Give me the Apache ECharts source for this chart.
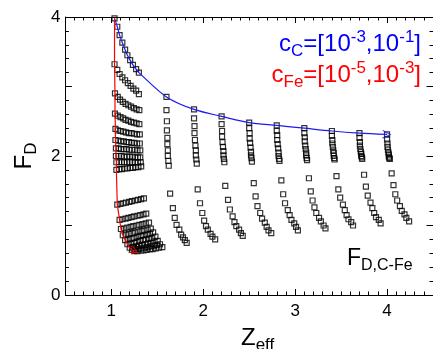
<!DOCTYPE html>
<html>
<head>
<meta charset="utf-8">
<title>F_D vs Zeff</title>
<script src="https://cdn.jsdelivr.net/npm/echarts@6/dist/echarts.min.js"></script>
</head>
<body style="margin:0">
<div id="chart" style="width:433px;height:349px;"></div>
<script>
// c_C = 1e-3 ... 1e-2 : one row per c_Fe value (1e-5 ... 1e-4, 2e-4 ... 1e-3)
var rowZ = [
  [1.035,1.065,1.09,1.12,1.15,1.175,1.205,1.235,1.27,1.30],
  [1.035,1.065,1.09,1.12,1.15,1.18,1.21,1.24,1.27,1.30],
  [1.04,1.07,1.095,1.125,1.155,1.185,1.215,1.245,1.275,1.305],
  [1.04,1.07,1.10,1.13,1.155,1.185,1.215,1.245,1.275,1.305],
  [1.045,1.07,1.10,1.13,1.16,1.19,1.22,1.25,1.28,1.31],
  [1.045,1.075,1.105,1.135,1.165,1.19,1.22,1.25,1.28,1.31],
  [1.05,1.08,1.105,1.135,1.165,1.195,1.225,1.255,1.285,1.315],
  [1.05,1.08,1.11,1.14,1.17,1.20,1.23,1.26,1.29,1.315],
  [1.055,1.085,1.115,1.14,1.17,1.20,1.23,1.26,1.29,1.32],
  [1.055,1.085,1.115,1.145,1.175,1.205,1.235,1.265,1.295,1.325],
  [1.065,1.10,1.13,1.16,1.195,1.225,1.26,1.29,1.325,1.355],
  [1.09,1.12,1.155,1.185,1.22,1.25,1.285,1.315,1.35,1.38],
  [1.105,1.14,1.175,1.21,1.24,1.275,1.305,1.34,1.375,1.41],
  [1.125,1.16,1.195,1.23,1.26,1.295,1.33,1.36,1.395,1.43],
  [1.15,1.185,1.22,1.25,1.285,1.32,1.35,1.385,1.42,1.455],
  [1.175,1.21,1.245,1.275,1.31,1.345,1.375,1.41,1.445,1.48],
  [1.20,1.235,1.27,1.30,1.335,1.37,1.40,1.435,1.47,1.505],
  [1.225,1.26,1.295,1.325,1.36,1.395,1.425,1.46,1.495,1.53],
  [1.25,1.285,1.32,1.35,1.385,1.42,1.45,1.485,1.52,1.555]
];
var rowF = [
  [3.98,3.86,3.74,3.63,3.53,3.45,3.38,3.31,3.25,3.20],
  [3.32,3.24,3.18,3.13,3.09,3.05,3.01,2.97,2.94,2.89],
  [2.90,2.85,2.81,2.78,2.75,2.73,2.71,2.69,2.67,2.66],
  [2.61,2.58,2.56,2.54,2.52,2.51,2.49,2.48,2.47,2.46],
  [2.39,2.37,2.36,2.35,2.34,2.33,2.33,2.32,2.31,2.31],
  [2.23,2.22,2.21,2.21,2.20,2.20,2.19,2.19,2.18,2.18],
  [2.11,2.11,2.10,2.10,2.10,2.09,2.09,2.09,2.08,2.08],
  [2.00,2.00,2.00,1.99,1.99,1.99,1.99,1.98,1.98,1.98],
  [1.91,1.91,1.91,1.91,1.91,1.91,1.91,1.91,1.91,1.91],
  [1.80,1.81,1.81,1.82,1.82,1.83,1.83,1.84,1.84,1.85],
  [1.30,1.31,1.32,1.33,1.34,1.35,1.36,1.37,1.38,1.39],
  [1.08,1.09,1.10,1.11,1.12,1.13,1.14,1.15,1.16,1.17],
  [0.95,0.96,0.97,0.98,0.99,1.00,1.01,1.02,1.03,1.04],
  [0.86,0.87,0.88,0.89,0.90,0.91,0.92,0.93,0.94,0.955],
  [0.79,0.80,0.81,0.82,0.84,0.85,0.86,0.87,0.88,0.90],
  [0.73,0.74,0.75,0.76,0.78,0.79,0.80,0.81,0.82,0.84],
  [0.68,0.69,0.70,0.71,0.72,0.73,0.74,0.75,0.77,0.78],
  [0.65,0.66,0.66,0.67,0.68,0.69,0.70,0.71,0.72,0.73],
  [0.63,0.63,0.64,0.64,0.65,0.66,0.66,0.67,0.68,0.69]
];
// c_C = 2e-2 ... 1e-1 : one column each, 19 c_Fe values top to bottom
var colZ = [
  [1.60,1.60,1.605,1.605,1.61,1.61,1.615,1.615,1.62,1.625,1.64,1.67,1.69,1.71,1.74,1.76,1.78,1.80,1.82],
  [1.90,1.90,1.905,1.905,1.91,1.915,1.92,1.92,1.925,1.93,1.94,1.965,1.99,2.01,2.03,2.05,2.08,2.10,2.13],
  [2.20,2.20,2.205,2.205,2.21,2.215,2.22,2.22,2.225,2.23,2.24,2.27,2.29,2.32,2.34,2.36,2.39,2.41,2.43],
  [2.50,2.50,2.505,2.505,2.51,2.515,2.52,2.52,2.525,2.53,2.55,2.57,2.59,2.62,2.64,2.67,2.69,2.71,2.74],
  [2.80,2.80,2.805,2.805,2.81,2.815,2.82,2.82,2.825,2.83,2.85,2.87,2.89,2.92,2.94,2.96,2.99,3.01,3.03],
  [3.10,3.10,3.105,3.105,3.11,3.115,3.12,3.12,3.125,3.13,3.15,3.17,3.19,3.21,3.23,3.26,3.28,3.31,3.33],
  [3.40,3.40,3.405,3.405,3.41,3.415,3.42,3.42,3.425,3.43,3.45,3.47,3.49,3.52,3.54,3.56,3.58,3.61,3.63],
  [3.70,3.70,3.705,3.705,3.71,3.715,3.72,3.72,3.725,3.73,3.75,3.77,3.79,3.82,3.84,3.86,3.88,3.91,3.93],
  [4.00,4.00,4.005,4.005,4.01,4.015,4.02,4.02,4.025,4.03,4.05,4.07,4.09,4.11,4.14,4.16,4.19,4.21,4.24]
];
var colF = [
  [2.85,2.66,2.50,2.37,2.26,2.17,2.08,2.00,1.93,1.86,1.46,1.25,1.11,1.01,0.94,0.87,0.83,0.79,0.75],
  [2.67,2.54,2.43,2.33,2.23,2.15,2.08,2.01,1.95,1.89,1.52,1.32,1.18,1.07,0.99,0.94,0.88,0.84,0.80],
  [2.57,2.46,2.36,2.28,2.20,2.13,2.07,2.01,1.96,1.91,1.57,1.37,1.23,1.13,1.05,0.99,0.94,0.89,0.85],
  [2.48,2.40,2.33,2.25,2.19,2.12,2.06,2.01,1.97,1.92,1.61,1.42,1.28,1.18,1.10,1.04,0.98,0.93,0.89],
  [2.44,2.36,2.30,2.23,2.17,2.11,2.05,2.00,1.96,1.93,1.65,1.45,1.32,1.22,1.15,1.08,1.03,0.98,0.93],
  [2.40,2.33,2.27,2.21,2.15,2.10,2.05,2.01,1.97,1.94,1.68,1.49,1.36,1.26,1.18,1.11,1.06,1.00,0.96],
  [2.36,2.29,2.23,2.18,2.13,2.08,2.04,2.00,1.97,1.95,1.71,1.52,1.40,1.30,1.22,1.15,1.09,1.05,1.00],
  [2.33,2.26,2.20,2.15,2.10,2.06,2.03,2.00,1.98,1.96,1.73,1.56,1.43,1.33,1.25,1.18,1.12,1.08,1.03],
  [2.31,2.24,2.18,2.13,2.09,2.05,2.02,1.99,1.97,1.96,1.75,1.58,1.45,1.36,1.28,1.21,1.16,1.11,1.06]
];
var xTicks = [1, 2, 3, 4];

var FONT = 'Liberation Sans';
var BLUE = '#1c1cf0';
var RED = '#ff0000';

var points = [];
rowZ.forEach(function (r, i) {
  r.forEach(function (z, j) { points.push([z, rowF[i][j]]); });
});
colZ.forEach(function (c, i) {
  c.forEach(function (z, j) { points.push([z, colF[i][j]]); });
});

// c_Fe fixed at 1e-5, c_C going up
var blueLine = rowZ[0].map(function (z, j) { return [z, rowF[0][j]]; });
colZ.forEach(function (c, i) { blueLine.push([c[0], colF[i][0]]); });
// c_C fixed at 1e-3, c_Fe going up
var redLine = rowZ.map(function (r, i) { return [r[0], rowF[i][0]]; });

// open arrow head pointing up, rotated onto the end of each curve
var chevron = 'path://M0,10L5,0L10,10L8.7,10L5,2.6L1.3,10Z';

var chart = echarts.init(document.getElementById('chart'));

var minorX = {
  min: 0.5, max: 4.5, interval: 0.1, scale: true,
  axisLine: { show: true, lineStyle: { color: '#000', width: 1 } },
  axisTick: { show: true, inside: true, length: 3.5, lineStyle: { color: '#000' } },
  splitLine: { show: false }
};
var majorX = {
  min: 0.5, max: 4.5, scale: true,
  axisLine: { show: false },
  axisTick: { show: true, inside: true, length: 6, customValues: xTicks, lineStyle: { color: '#000' } },
  axisLabel: { show: false },
  splitLine: { show: false }
};
var yBase = {
  min: 0, max: 4, interval: 1,
  axisLine: { show: true, lineStyle: { color: '#000', width: 1 } },
  axisTick: { show: true, inside: true, length: 6.5, lineStyle: { color: '#000' } },
  minorTick: { show: true, splitNumber: 5, length: 3.5, lineStyle: { color: '#000' } },
  splitLine: { show: false }
};

function rich(color, big, small) {
  return {
    m: { fontSize: big, fontWeight: 'normal', color: color, fontFamily: FONT, lineHeight: big + 6 },
    s: { fontSize: small, fontWeight: 'normal', color: color, fontFamily: FONT, lineHeight: small, padding: [15, 0, 0, 0] },
    p: { fontSize: small, fontWeight: 'normal', color: color, fontFamily: FONT, lineHeight: small, padding: [0, 0, 14, 0] }
  };
}

function arrowSeries(line, color) {
  return {
    type: 'scatter',
    data: [line[line.length - 1]],
    symbol: chevron,
    symbolSize: 9,
    itemStyle: { color: color },
    z: 4,
    silent: true
  };
}

chart.setOption({
  animation: false,
  backgroundColor: '#fff',
  grid: { left: 58, top: 17, width: 377.5, height: 278 },
  title: [
    { text: '{m|c}{s|C}{m|=[10}{p|-3}{m|,10}{p|-1}{m|]}', right: 12, top: 29, padding: 0,
      textStyle: { fontWeight: 'normal', rich: rich('#0000ff', 24, 17) } },
    { text: '{m|c}{s|Fe}{m|=[10}{p|-5}{m|,10}{p|-3}{m|]}', right: 12, top: 60, padding: 0,
      textStyle: { fontWeight: 'normal', rich: rich('#ff0000', 24, 17) } },
    { text: '{m|F}{s|D,C-Fe}', left: 347, top: 244, padding: 0,
      textStyle: { fontWeight: 'normal', rich: rich('#000', 23, 16) } },
    { text: '{m|Z}{s|eff}', left: 241, top: 323, padding: 0,
      textStyle: { fontWeight: 'normal', rich: rich('#000', 24, 17) } }
  ],
  xAxis: [
    Object.assign({}, minorX, {
      position: 'bottom',
      axisLabel: { show: true, customValues: xTicks, margin: 8, color: '#000', fontSize: 17, fontFamily: FONT }
    }),
    Object.assign({}, majorX, { position: 'bottom' }),
    Object.assign({}, minorX, { position: 'top', axisLabel: { show: false } }),
    Object.assign({}, majorX, { position: 'top' })
  ],
  yAxis: [
    Object.assign({}, yBase, {
      position: 'left',
      name: '{m|F}{s|D}',
      nameLocation: 'middle',
      nameRotate: 90,
      nameGap: 22,
      nameTextStyle: { fontWeight: 'normal', rich: rich('#000', 24, 17) },
      axisLabel: {
        margin: 5, color: '#000', fontSize: 17, fontFamily: FONT,
        formatter: function (v) { return v % 2 === 0 ? String(v) : ''; }
      }
    }),
    Object.assign({}, yBase, { position: 'right', axisLabel: { show: false } })
  ],
  series: [
    {
      type: 'scatter',
      data: points,
      symbol: 'rect',
      symbolSize: 5,
      itemStyle: { color: 'rgba(0,0,0,0)', borderColor: '#000', borderWidth: 1.2 },
      z: 2
    },
    {
      type: 'line',
      data: blueLine,
      showSymbol: false,
      smooth: 0.3,
      lineStyle: { color: BLUE, width: 1.2 },
      z: 3
    },
    {
      type: 'line',
      data: redLine,
      showSymbol: false,
      lineStyle: { color: RED, width: 1.2 },
      z: 3
    },
    arrowSeries(blueLine, BLUE),
    arrowSeries(redLine, RED)
  ]
});

// turn each arrow head along the last segment of its curve
function headAngle(line) {
  var a = chart.convertToPixel({ gridIndex: 0 }, line[line.length - 2]);
  var b = chart.convertToPixel({ gridIndex: 0 }, line[line.length - 1]);
  var phi = Math.atan2(-(b[1] - a[1]), b[0] - a[0]) * 180 / Math.PI;
  return phi - 90;
}
chart.setOption({
  series: [{}, {}, {}, { symbolRotate: headAngle(blueLine) }, { symbolRotate: headAngle(redLine) }]
});
</script>
</body>
</html>
